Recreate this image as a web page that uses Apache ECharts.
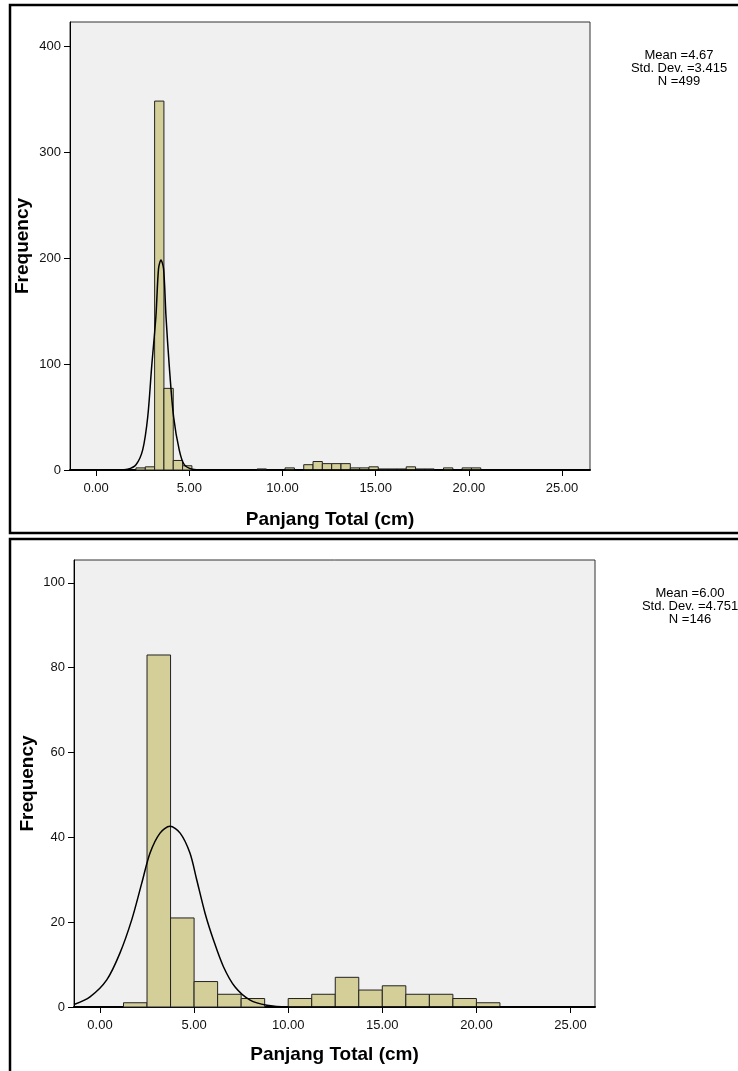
<!DOCTYPE html>
<html>
<head>
<meta charset="utf-8">
<script src="https://cdn.jsdelivr.net/npm/echarts@6/dist/echarts.min.js"></script>
<style>
  html, body { margin: 0; padding: 0; background: #fff; }
  #chart { width: 738px; height: 1071px; }
</style>
</head>
<body>
<div id="chart"></div>
<script>
// top histogram: bin lower edges (width 0.5) and counts
const topBinWidth = 0.5
const topBinStart = [2.14, 2.64, 3.14, 3.64, 4.14, 4.64, 8.64, 10.14, 11.14, 11.64, 12.14, 12.64, 13.14, 13.64, 14.14, 14.64, 15.14, 15.64, 16.14, 16.64, 17.14, 17.64, 18.64, 19.64, 20.14]
const topCounts = [2, 3, 348, 77, 9, 4, 1, 2, 5, 8, 6, 6, 6, 2, 2, 3, 1, 1, 1, 3, 1, 1, 2, 2, 2]
// normal curve
const topCurveX = [-1.4, 1.2, 1.69, 2.14, 2.5, 2.77, 2.98, 3.21, 3.35, 3.48, 3.62, 3.75, 3.93, 4.16, 4.46, 4.73, 5.17, 5.7, 26.5]
const topCurveY = [0, 0, 0.7, 5, 19, 50, 97, 145, 190, 198, 190, 145, 97, 50, 19, 5, 0.7, 0, 0]
const topStats = ['Mean =4.67', 'Std. Dev. =3.415', 'N =499']

// bottom histogram: bin lower edges (width 1.25) and counts
const botBinWidth = 1.25
const botBinStart = [1.25, 2.5, 3.75, 5, 6.25, 7.5, 10, 11.25, 12.5, 13.75, 15, 16.25, 17.5, 18.75, 20]
const botCounts = [1, 83, 21, 6, 3, 2, 2, 3, 7, 4, 5, 3, 3, 2, 1]
const botCurveX = [-1.38, -0.53, 0.36, 1.06, 1.69, 2.22, 2.66, 3.19, 3.72, 4.26, 4.78, 5.14, 5.59, 6.03, 6.56, 7.18, 7.98, 8.87, 9.93, 26.3]
const botCurveY = [0.6, 2.4, 6.4, 12.7, 20.6, 29.2, 36.3, 41, 42.6, 41, 36.3, 30, 22, 15.8, 9.5, 4.7, 1.6, 0.4, 0, 0]
const botStats = ['Mean =6.00', 'Std. Dev. =4.751', 'N =146']

const xTicks = [0, 5, 10, 15, 20, 25]
const topYTicks = [0, 100, 200, 300, 400]
const botYTicks = [0, 20, 40, 60, 80, 100]

const barFill = '#d4cf98'
const font = 'Liberation Sans, Arial, sans-serif'

const chart = echarts.init(document.getElementById('chart'))

const bins = (starts, counts, w) => starts.map((s, i) => [s, s + w, counts[i]])
const curve = (xs, ys) => xs.map((x, i) => [x, ys[i]])

const renderBar = (params, api) => {
  const p0 = api.coord([api.value(0), 0])
  const p1 = api.coord([api.value(1), api.value(2)])
  return {
    type: 'rect',
    shape: { x: p0[0], y: p1[1], width: p1[0] - p0[0], height: p0[1] - p1[1] },
    style: { fill: barFill, stroke: '#222', lineWidth: 1 },
  }
}

const xAxisBase = (grid, min, max, gap) => ({
  type: 'value',
  gridIndex: grid,
  min: min,
  max: max,
  name: 'Panjang Total (cm)',
  nameLocation: 'middle',
  nameGap: gap,
  nameTextStyle: { fontFamily: font, fontSize: 19, fontWeight: 'bold', color: '#000' },
  splitLine: { show: false },
  axisLine: { onZero: false, lineStyle: { color: '#000', width: 2 } },
  axisTick: { customValues: xTicks, length: 6, lineStyle: { color: '#000' } },
  axisLabel: {
    customValues: xTicks,
    margin: 12,
    fontFamily: font,
    fontSize: 13,
    color: '#111',
    formatter: v => v.toFixed(2),
  },
})

const yAxisBase = (grid, max, ticks, gap) => ({
  type: 'value',
  gridIndex: grid,
  min: 0,
  max: max,
  name: 'Frequency',
  nameLocation: 'middle',
  nameGap: gap,
  nameMoveOverlap: false,
  nameTextStyle: { fontFamily: font, fontSize: 19, fontWeight: 'bold', color: '#000' },
  splitLine: { show: false },
  axisLine: { show: true, onZero: false, lineStyle: { color: '#000', width: 1 } },
  axisTick: { show: true, customValues: ticks, length: 6, lineStyle: { color: '#000' } },
  axisLabel: { customValues: ticks, margin: 9, fontFamily: font, fontSize: 13, color: '#111' },
})

const statText = (lines, cx, top) => ({
  type: 'text',
  x: cx,
  y: top,
  style: {
    text: lines.join('\n'),
    font: '13px ' + font,
    fill: '#000',
    align: 'center',
    textAlign: 'center',
    lineHeight: 13,
  },
})

chart.setOption({
  animation: false,
  backgroundColor: '#fff',
  grid: [
    { left: 70, top: 22, width: 520, height: 448, show: true, backgroundColor: '#f0f0f0', borderColor: '#333', borderWidth: 1 },
    { left: 74, top: 560, width: 521, height: 447, show: true, backgroundColor: '#f0f0f0', borderColor: '#333', borderWidth: 1 },
  ],
  xAxis: [
    xAxisBase(0, -1.4, 26.5, 40),
    xAxisBase(1, -1.38, 26.3, 38),
  ],
  yAxis: [
    yAxisBase(0, 422.6, topYTicks, 38),
    yAxisBase(1, 105.4, botYTicks, 37),
  ],
  graphic: [
    { type: 'rect', shape: { x: 10, y: 5, width: 740, height: 528 }, style: { fill: 'none', stroke: '#000', lineWidth: 2.5 } },
    { type: 'rect', shape: { x: 10, y: 539, width: 740, height: 545 }, style: { fill: 'none', stroke: '#000', lineWidth: 2.5 } },
    statText(topStats, 679, 49),
    statText(botStats, 690, 587),
  ],
  series: [
    {
      type: 'custom',
      xAxisIndex: 0,
      yAxisIndex: 0,
      renderItem: renderBar,
      encode: { x: [0, 1], y: 2 },
      data: bins(topBinStart, topCounts, topBinWidth),
    },
    {
      type: 'line',
      xAxisIndex: 0,
      yAxisIndex: 0,
      smooth: 0.3,
      symbol: 'none',
      lineStyle: { color: '#000', width: 1.5 },
      data: curve(topCurveX, topCurveY),
    },
    {
      type: 'custom',
      xAxisIndex: 1,
      yAxisIndex: 1,
      renderItem: renderBar,
      encode: { x: [0, 1], y: 2 },
      data: bins(botBinStart, botCounts, botBinWidth),
    },
    {
      type: 'line',
      xAxisIndex: 1,
      yAxisIndex: 1,
      smooth: 0.3,
      symbol: 'none',
      lineStyle: { color: '#000', width: 1.5 },
      data: curve(botCurveX, botCurveY),
    },
  ],
})
</script>
</body>
</html>
